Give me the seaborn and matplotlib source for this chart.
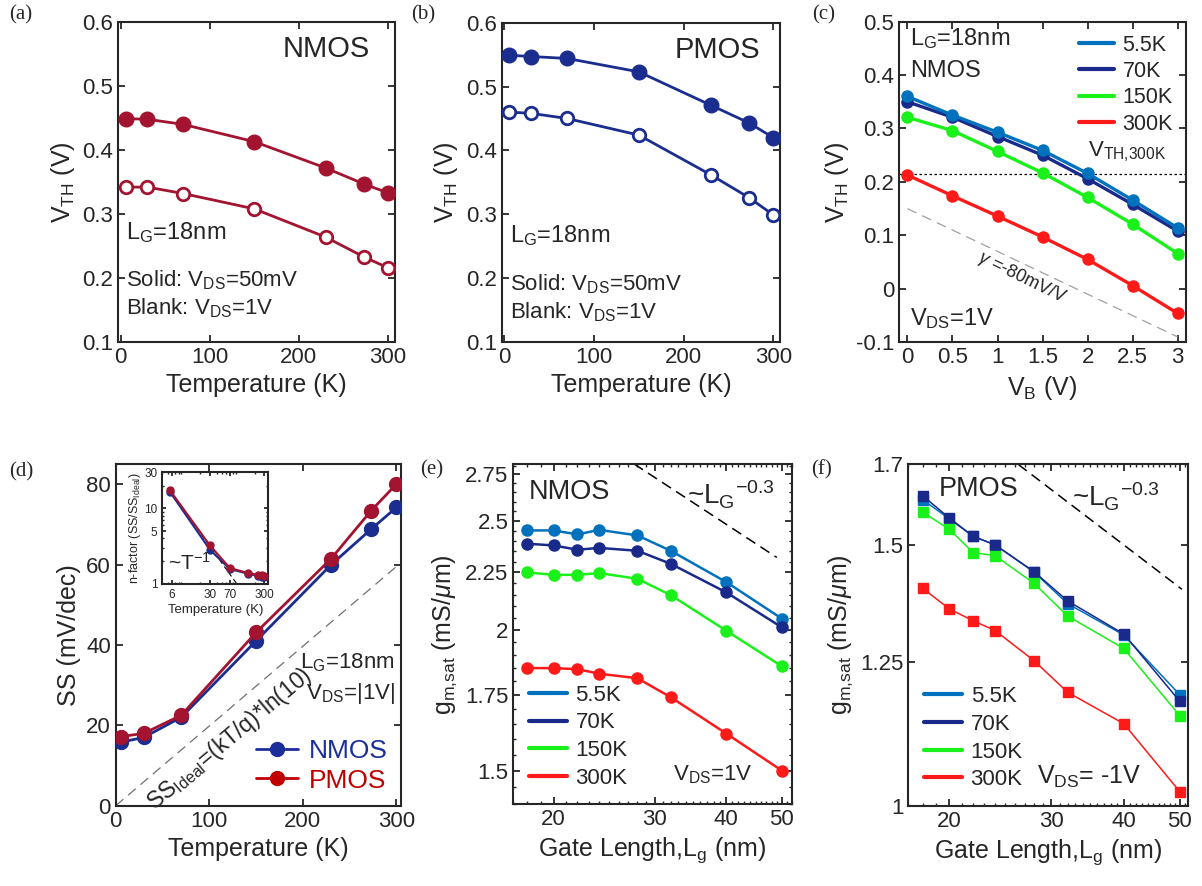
import matplotlib
matplotlib.use("Agg")
import matplotlib.pyplot as plt
import seaborn as sns
from matplotlib.lines import Line2D
from matplotlib.ticker import FixedLocator, NullFormatter

# ---- data ----
temps = [5.5, 30, 70, 150, 230, 273, 300]
nmos_vth_50mv = [0.449, 0.448, 0.440, 0.413, 0.372, 0.347, 0.333]
nmos_vth_1v = [0.342, 0.342, 0.332, 0.308, 0.264, 0.233, 0.216]
pmos_vth_50mv = [0.549, 0.547, 0.544, 0.523, 0.471, 0.443, 0.420]
pmos_vth_1v = [0.460, 0.458, 0.450, 0.424, 0.362, 0.326, 0.299]

vb = [0, 0.5, 1, 1.5, 2, 2.5, 3]
vth_vb_5k = [0.360, 0.325, 0.293, 0.259, 0.216, 0.166, 0.114]
vth_vb_70k = [0.350, 0.321, 0.285, 0.250, 0.206, 0.158, 0.108]
vth_vb_150k = [0.321, 0.296, 0.257, 0.217, 0.171, 0.121, 0.066]
vth_vb_300k = [0.213, 0.174, 0.136, 0.097, 0.055, 0.006, -0.046]
vth_300k_ref = 0.215
gamma_vb = [0, 3]
gamma_vth = [0.15, -0.09]

ss_nmos = [15.8, 17.0, 22.0, 41.0, 59.9, 68.8, 74.2]
ss_pmos = [17.2, 18.0, 22.5, 43.1, 61.4, 73.4, 80.0]
ideal_t = [0, 300]
ideal_ss = [0, 59.5]
nf_nmos = [16.6, 2.84, 1.57, 1.37, 1.28, 1.25, 1.22]
nf_pmos = [17.4, 3.24, 1.62, 1.40, 1.31, 1.30, 1.29]
inv_t = [5.5, 94]
inv_nf = [17.1, 1.0]

lg = [18, 20, 22, 24, 28, 32, 40, 50]
gm_n_5k = [2.452, 2.452, 2.432, 2.455, 2.427, 2.352, 2.206, 2.047]
gm_n_70k = [2.386, 2.378, 2.357, 2.366, 2.352, 2.290, 2.160, 2.011]
gm_n_150k = [2.250, 2.239, 2.239, 2.247, 2.221, 2.148, 1.997, 1.857]
gm_n_300k = [1.850, 1.850, 1.846, 1.829, 1.812, 1.743, 1.618, 1.500]
gm_p_5k = [1.609, 1.562, 1.520, 1.500, 1.438, 1.369, 1.304, 1.188]
gm_p_70k = [1.619, 1.564, 1.520, 1.500, 1.439, 1.375, 1.306, 1.176]
gm_p_150k = [1.578, 1.537, 1.482, 1.475, 1.413, 1.343, 1.277, 1.150]
gm_p_300k = [1.402, 1.358, 1.333, 1.313, 1.253, 1.193, 1.136, 1.022]
scale_n_lg = [27.6, 49.0]
scale_n_gm = [2.81, 2.32]
scale_p_lg = [26.3, 50.4]
scale_p_gm = [1.70, 1.40]

temp_labels = ["5.5K", "70K", "150K", "300K"]

# ---- style ----
RED = "#A2142F"
NAVY = "#1B2E8F"
C5 = "#0072BD"
C70 = "#1A2A8A"
C150 = "#1AF01A"
C300 = "#FF1A1A"
TXT = "#262626"

sns.set_theme(style="ticks")
plt.rcParams["font.family"] = ["Liberation Sans", "DejaVu Sans"]
plt.rcParams["mathtext.fontset"] = "custom"
plt.rcParams["mathtext.rm"] = "Liberation Sans"
plt.rcParams["mathtext.it"] = "Liberation Sans:italic"
plt.rcParams["mathtext.bf"] = "Liberation Sans:bold"
plt.rcParams["axes.linewidth"] = 1.5
plt.rcParams["axes.edgecolor"] = TXT
plt.rcParams["xtick.color"] = TXT
plt.rcParams["ytick.color"] = TXT
plt.rcParams["axes.labelcolor"] = TXT

TICK = 16
LABEL = 18


def style_axes(ax, size=TICK):
    ax.tick_params(direction="in", top=True, right=True, length=5, width=1.3,
                   labelsize=size, colors=TXT, labelcolor=TXT)
    ax.tick_params(which="minor", direction="in", top=True, right=True,
                   length=2.5, width=1.0)
    for sp in ax.spines.values():
        sp.set_visible(True)
        sp.set_color(TXT)
        sp.set_linewidth(1.5)


def series(ax, x, y, color, marker="o", ms=9, lw=2, hollow=False, z=3):
    kw = dict(markerfacecolor="white" if hollow else color,
              markeredgecolor=color, markeredgewidth=2 if hollow else 1)
    sns.lineplot(x=x, y=y, ax=ax, color=color, marker=marker, markersize=ms,
                 linewidth=lw, zorder=z, **kw)


fig = plt.figure(figsize=(12.02, 8.86), dpi=100)
ax_a = fig.add_axes([0.0982, 0.614, 0.2304, 0.3612])
ax_b = fig.add_axes([0.4174, 0.614, 0.2315, 0.3604])
ax_c = fig.add_axes([0.7482, 0.6137, 0.2383, 0.3619])
ax_d = fig.add_axes([0.0963, 0.0906, 0.2374, 0.3857])
ax_e = fig.add_axes([0.4270, 0.0922, 0.2316, 0.3837])
ax_f = fig.add_axes([0.7557, 0.0906, 0.2329, 0.3853])
ax_in = fig.add_axes([0.1350, 0.3409, 0.0882, 0.1261])

# (a) NMOS VTH vs T
series(ax_a, temps, nmos_vth_50mv, RED, ms=10.5)
series(ax_a, temps, nmos_vth_1v, RED, ms=9, hollow=True)
ax_a.set_xlim(-3, 308)
ax_a.set_ylim(0.1, 0.6)
ax_a.set_xticks([0, 100, 200, 300])
ax_a.set_yticks([0.1, 0.2, 0.3, 0.4, 0.5, 0.6])
ax_a.set_xlabel("Temperature (K)", fontsize=LABEL)
ax_a.set_ylabel("V$_{\\rm TH}$ (V)", fontsize=LABEL)
ax_a.text(280, 0.557, "NMOS", fontsize=21, ha="right", va="center")
ax_a.text(6.5, 0.271, "L$_{\\rm G}$=18nm", fontsize=17, va="center")
ax_a.text(6.5, 0.197, "Solid: V$_{\\rm DS}$=50mV", fontsize=16, va="center")
ax_a.text(6.5, 0.153, "Blank: V$_{\\rm DS}$=1V", fontsize=16, va="center")

# (b) PMOS VTH vs T
series(ax_b, temps, pmos_vth_50mv, NAVY, ms=10.5)
series(ax_b, temps, pmos_vth_1v, NAVY, ms=9, hollow=True)
ax_b.set_xlim(-3, 307.5)
ax_b.set_ylim(0.1, 0.6)
ax_b.set_xticks([0, 100, 200, 300])
ax_b.set_yticks([0.1, 0.2, 0.3, 0.4, 0.5, 0.6])
ax_b.set_xlabel("Temperature (K)", fontsize=LABEL)
ax_b.set_ylabel("V$_{\\rm TH}$ (V)", fontsize=LABEL)
ax_b.text(285, 0.557, "PMOS", fontsize=21, ha="right", va="center")
ax_b.text(6.4, 0.267, "L$_{\\rm G}$=18nm", fontsize=17, va="center")
ax_b.text(6.4, 0.190, "Solid: V$_{\\rm DS}$=50mV", fontsize=16, va="center")
ax_b.text(6.4, 0.146, "Blank: V$_{\\rm DS}$=1V", fontsize=16, va="center")

# (c) VTH vs VB
ax_c.axhline(vth_300k_ref, color="black", ls=(0, (2, 2)), lw=0.9, zorder=1)
sns.lineplot(x=gamma_vb, y=gamma_vth, ax=ax_c, color="#A0A0A0", lw=0.9,
             ls=(0, (8, 5)), zorder=1)
for yv, col in zip([vth_vb_70k, vth_vb_5k, vth_vb_150k, vth_vb_300k],
                   [C70, C5, C150, C300]):
    series(ax_c, vb, yv, col, ms=8, lw=2.4)
ax_c.set_xlim(-0.09, 3.09)
ax_c.set_ylim(-0.1, 0.5)
ax_c.set_xticks(vb)
ax_c.set_xticklabels(["0", "0.5", "1", "1.5", "2", "2.5", "3"])
ax_c.set_yticks([-0.1, 0, 0.1, 0.2, 0.3, 0.4, 0.5])
ax_c.set_yticklabels(["-0.1", "0", "0.1", "0.2", "0.3", "0.4", "0.5"])
ax_c.set_xlabel("V$_{\\rm B}$ (V)", fontsize=LABEL)
ax_c.set_ylabel("V$_{\\rm TH}$ (V)", fontsize=LABEL)
ax_c.text(0.03, 0.469, "L$_{\\rm G}$=18nm", fontsize=17, va="center")
ax_c.text(0.03, 0.408, "NMOS", fontsize=17, va="center")
ax_c.text(2.01, 0.257, "V$_{\\rm TH{,}300K}$", fontsize=16, va="center")
ax_c.text(0.03, -0.055, "V$_{\\rm DS}$=1V", fontsize=17, va="center")
ax_c.text(1.27, 0.02, "$\\gamma$ =-80mV/V", fontsize=13, rotation=-26,
          ha="center", va="center", color=TXT)
hc = [Line2D([], [], color=c, lw=3) for c in [C5, C70, C150, C300]]
ax_c.legend(hc, temp_labels, loc="upper right", frameon=False, fontsize=15.5,
            handlelength=1.6, handletextpad=0.4, labelspacing=0.25,
            borderaxespad=0.2)

# (d) SS vs T
sns.lineplot(x=ideal_t, y=ideal_ss, ax=ax_d, color="#707070", lw=0.9,
             ls=(0, (8, 5)), zorder=1)
series(ax_d, temps, ss_nmos, NAVY, ms=10, lw=2)
series(ax_d, temps, ss_pmos, RED, ms=10, lw=2)
ax_d.set_xlim(0, 305)
ax_d.set_ylim(0, 85)
ax_d.set_xticks([0, 100, 200, 300])
ax_d.set_yticks([0, 20, 40, 60, 80])
ax_d.set_xlabel("Temperature (K)", fontsize=LABEL)
ax_d.set_ylabel("SS (mV/dec)", fontsize=LABEL)
ax_d.text(122, 16.5, "SS$_{\\rm Ideal}$=(kT/q)*ln(10)", fontsize=16.5,
          rotation=40, ha="center", va="center")
ax_d.text(298, 35.6, "L$_{\\rm G}$=18nm", fontsize=16, ha="right", va="center")
ax_d.text(298, 27.8, "V$_{\\rm DS}$=|1V|", fontsize=16, ha="right", va="center")
hd = [Line2D([], [], color="#1B2E9A", lw=2, marker="o", ms=10),
      Line2D([], [], color="#C00000", lw=2, marker="o", ms=10)]
leg = ax_d.legend(hd, ["NMOS", "PMOS"], loc="lower right", frameon=False,
                  fontsize=19, handlelength=1.6, handletextpad=0.4,
                  labelspacing=0.2, borderaxespad=0.1)
for t, c in zip(leg.get_texts(), ["#1B2E9A", "#C00000"]):
    t.set_color(c)

# inset n-factor
sns.lineplot(x=inv_t, y=inv_nf, ax=ax_in, color="black", lw=0.8,
             ls=(0, (4, 3)), zorder=1)
series(ax_in, temps, nf_nmos, NAVY, ms=5, lw=1.5)
series(ax_in, temps, nf_pmos, RED, ms=5, lw=1.5)
ax_in.set_xscale("log")
ax_in.set_yscale("log")
ax_in.set_xlim(4, 355)
ax_in.set_ylim(1, 30)
ax_in.set_xticks([6, 30, 70, 300])
ax_in.set_xticklabels(["6", "30", "70", "300"])
ax_in.set_yticks([1, 5, 10, 30])
ax_in.set_yticklabels(["1", "5", "10", "30"])
style_axes(ax_in, size=8.5)
ax_in.tick_params(length=3)
ax_in.tick_params(which="minor", length=1.5)
ax_in.yaxis.set_minor_formatter(NullFormatter())
ax_in.xaxis.set_minor_formatter(NullFormatter())
ax_in.set_xlabel("Temperature (K)", fontsize=9.5, labelpad=2)
ax_in.set_ylabel("n-factor (SS/SS$_{\\rm Ideal}$)", fontsize=9, labelpad=1)
ax_in.text(5.1, 1.9, "~T$^{-1}$", fontsize=15, va="center")

# (e) NMOS gm vs Lg
sns.lineplot(x=scale_n_lg, y=scale_n_gm, ax=ax_e, color="black", lw=1.1,
             ls=(0, (7, 4)), zorder=1)
for yv, col in zip([gm_n_5k, gm_n_70k, gm_n_150k, gm_n_300k],
                   [C5, C70, C150, C300]):
    series(ax_e, lg, yv, col, ms=8, lw=1.8)
ax_e.set_xscale("log")
ax_e.set_yscale("log")
ax_e.set_xlim(17, 52)
ax_e.set_ylim(1.4, 2.807)
ax_e.set_xticks([20, 30, 40, 50])
ax_e.set_xticklabels(["20", "30", "40", "50"])
ax_e.set_yticks([1.5, 1.75, 2, 2.25, 2.5, 2.75])
ax_e.set_yticklabels(["1.5", "1.75", "2", "2.25", "2.5", "2.75"])
ax_e.xaxis.set_minor_locator(FixedLocator(list(range(17, 53))))
ax_e.yaxis.set_minor_locator(FixedLocator([1.4 + 0.05 * i for i in range(29)]))
ax_e.xaxis.set_minor_formatter(NullFormatter())
ax_e.yaxis.set_minor_formatter(NullFormatter())
ax_e.set_xlabel("Gate Length,L$_{\\rm g}$ (nm)", fontsize=LABEL)
ax_e.set_ylabel("g$_{\\rm m{,}sat}$ (mS/$\\mu$m)", fontsize=LABEL)
ax_e.text(0.054, 0.919, "NMOS", fontsize=19.5, va="center", transform=ax_e.transAxes)
ax_e.text(0.625, 0.91, "~L$_{\\rm G}$$^{-0.3}$", fontsize=20, va="center",
          transform=ax_e.transAxes)
ax_e.text(0.575, 0.086, "V$_{\\rm DS}$=1V", fontsize=16, va="center",
          transform=ax_e.transAxes)
ax_e.legend(hc, temp_labels, loc="lower left", frameon=False, fontsize=16,
            handlelength=1.7, handletextpad=0.4, labelspacing=0.3,
            borderaxespad=0.3)

# (f) PMOS gm vs Lg
sns.lineplot(x=scale_p_lg, y=scale_p_gm, ax=ax_f, color="black", lw=1.1,
             ls=(0, (7, 4)), zorder=1)
for yv, col in zip([gm_p_5k, gm_p_70k, gm_p_150k, gm_p_300k],
                   [C5, C70, C150, C300]):
    series(ax_f, lg, yv, col, marker="s", ms=7.5, lw=1.1)
ax_f.set_xscale("log")
ax_f.set_yscale("log")
ax_f.set_xlim(17, 51.7)
ax_f.set_ylim(1.0, 1.7)
ax_f.set_xticks([20, 30, 40, 50])
ax_f.set_xticklabels(["20", "30", "40", "50"])
ax_f.set_yticks([1, 1.25, 1.5, 1.7])
ax_f.set_yticklabels(["1", "1.25", "1.5", "1.7"])
ax_f.xaxis.set_minor_locator(FixedLocator(list(range(17, 52))))
ax_f.yaxis.set_minor_locator(FixedLocator([]))
ax_f.xaxis.set_minor_formatter(NullFormatter())
ax_f.yaxis.set_minor_formatter(NullFormatter())
ax_f.set_xlabel("Gate Length,L$_{\\rm g}$ (nm)", fontsize=LABEL)
ax_f.set_ylabel("g$_{\\rm m{,}sat}$ (mS/$\\mu$m)", fontsize=LABEL)
ax_f.text(0.107, 0.927, "PMOS", fontsize=19.5, va="center", transform=ax_f.transAxes)
ax_f.text(0.584, 0.905, "~L$_{\\rm G}$$^{-0.3}$", fontsize=20, va="center",
          transform=ax_f.transAxes)
ax_f.text(0.459, 0.085, "V$_{\\rm DS}$= -1V", fontsize=18, va="center",
          transform=ax_f.transAxes)
ax_f.legend(hc, temp_labels, loc="lower left", frameon=False, fontsize=16,
            handlelength=1.7, handletextpad=0.4, labelspacing=0.3,
            borderaxespad=0.3)

for ax in [ax_a, ax_b, ax_c, ax_d, ax_e, ax_f]:
    style_axes(ax)

for lab, x, y in [("(a)", 0.0175, 0.983), ("(b)", 0.352, 0.983),
                  ("(c)", 0.685, 0.983), ("(d)", 0.0175, 0.4676),
                  ("(e)", 0.359, 0.4695), ("(f)", 0.6836, 0.4695)]:
    fig.text(x, y, lab, fontsize=15, family="Liberation Serif",
             ha="center", va="center")

fig.savefig("out.png", dpi=100)
